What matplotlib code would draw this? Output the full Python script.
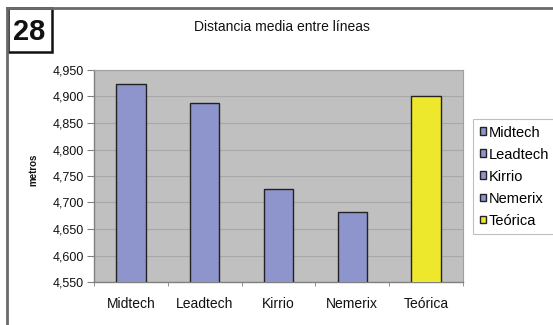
import matplotlib
matplotlib.use("Agg")
import numpy as np
import matplotlib.pyplot as plt
from matplotlib.lines import Line2D
from matplotlib.patches import Rectangle

# data
categories = ['Midtech', 'Leadtech', 'Kirrio', 'Nemerix', 'Teórica']
distances = [4.923, 4.888, 4.725, 4.683, 4.900]
yticks = [4.55, 4.60, 4.65, 4.70, 4.75, 4.80, 4.85, 4.90, 4.95]
ytick_labels = ['4,550', '4,600', '4,650', '4,700', '4,750', '4,800', '4,850', '4,900', '4,950']

blue = '#8e95cd'
yellow = '#eee82c'
colors = [blue, blue, blue, blue, yellow]

plt.rcParams['font.family'] = ['Liberation Sans', 'DejaVu Sans']

W, H = 553, 325
fig = plt.figure(figsize=(W / 100, H / 100), dpi=100)
fig.patch.set_facecolor('white')

# frame of the figure (top and left lines)
fig.add_artist(Line2D([7 / W, 1], [1 - 8 / H, 1 - 8 / H], color='#6a6a6a', lw=2))
fig.add_artist(Line2D([7 / W, 7 / W], [0, 1 - 8 / H], color='#6a6a6a', lw=2))

# number box
fig.add_artist(Rectangle((8 / W, 1 - 52 / H), 44 / W, 44 / H, transform=fig.transFigure,
                         facecolor='white', edgecolor='#111111', lw=1.8))
fig.text(29.5 / W, 1 - 32 / H, '28', ha='center', va='center', fontsize=21,
         fontweight='bold', color='#111111')

ax = fig.add_axes([94 / W, 1 - 282 / H, (463 - 94) / W, (282 - 70) / H])
ax.set_facecolor('#c0c0c0')

x = np.arange(len(categories))
ax.bar(x, distances, width=0.4, color=colors, edgecolor='#222222', linewidth=1.0,
       label=categories, zorder=3)

ax.set_xlim(-0.5, len(categories) - 0.5)
ax.set_ylim(4.55, 4.95)
ax.set_yticks(yticks)
ax.set_yticklabels(ytick_labels)
ax.yaxis.grid(True, color='#a8a8a8', lw=0.8, zorder=0)
ax.set_axisbelow(True)

ax.set_xticks(x)
ax.set_xticklabels(categories)
ax.set_xticks(np.arange(-0.5, len(categories)), minor=True)
ax.tick_params(axis='x', which='major', length=0, pad=11, labelsize=10, labelcolor='#111111')
ax.tick_params(axis='x', which='minor', length=3, color='#808080')
ax.tick_params(axis='y', length=5, color='#808080', labelsize=9, labelcolor='#111111', pad=2)

for s in ['top', 'right']:
    ax.spines[s].set_color('#a0a0a0')
    ax.spines[s].set_linewidth(0.8)
for s in ['left', 'bottom']:
    ax.spines[s].set_color('#808080')
    ax.spines[s].set_linewidth(1.0)

fig.text(33 / W, 1 - 170 / H, 'metros', rotation=90, ha='center', va='center',
         fontsize=7, fontweight='bold', color='#111111')
fig.text(282 / W, 1 - 27 / H, 'Distancia media entre líneas', ha='center', va='center',
         fontsize=10, color='#111111')

leg = ax.legend(loc='upper left', bbox_to_anchor=(473 / W, 1 - 119 / H),
                bbox_transform=fig.transFigure, fontsize=10.5, frameon=True,
                fancybox=False, edgecolor='#b0b0b0', handlelength=0.45,
                handleheight=0.45, handletextpad=0.2, labelspacing=0.55,
                borderpad=0.45, borderaxespad=0)
leg.get_frame().set_linewidth(0.8)

fig.savefig('out.png', dpi=100)
